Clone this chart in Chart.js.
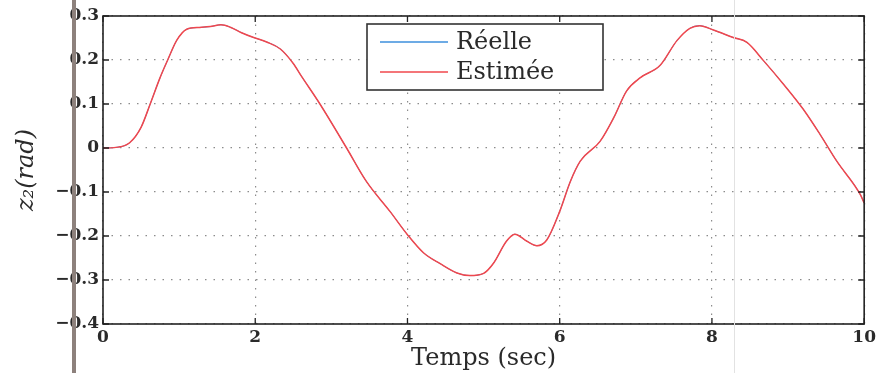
<!DOCTYPE html>
<html><head><meta charset="utf-8">
<script src="https://cdn.jsdelivr.net/npm/chart.js@4/dist/chart.umd.min.js"></script>
<style>
html,body{margin:0;padding:0;background:#fff;}
#wrap{position:relative;width:879px;height:373px;}
#c{display:block;}
.scan{position:absolute;top:0;width:4px;height:373px;left:72px;background:#8d817c;pointer-events:none;}
.scan2{position:absolute;top:0;width:1px;height:373px;left:734px;background:#e2e2e2;pointer-events:none;}
</style></head>
<body><div id="wrap"><canvas id="c" width="879" height="373"></canvas><div class="scan"></div><div class="scan2"></div></div>
<script>
const times = [0,0.2,0.35,0.5,0.62,0.75,0.85,0.97,1.1,1.27,1.41,1.55,1.68,1.82,1.98,2.15,2.33,2.5,2.6,2.85,3.2,3.46,3.77,4.0,4.21,4.43,4.65,4.82,5.0,5.13,5.3,5.41,5.57,5.7,5.83,6.0,6.14,6.27,6.53,6.71,6.88,7.06,7.32,7.54,7.71,7.84,8.02,8.28,8.46,8.68,8.94,9.2,9.42,9.64,9.95,10.0];
const reelle = [0,0.002,0.012,0.047,0.10,0.16,0.20,0.245,0.27,0.274,0.276,0.28,0.274,0.262,0.251,0.241,0.225,0.192,0.165,0.10,0.0,-0.076,-0.144,-0.197,-0.238,-0.263,-0.284,-0.290,-0.285,-0.262,-0.212,-0.196,-0.212,-0.222,-0.209,-0.144,-0.076,-0.03,0.015,0.069,0.13,0.16,0.188,0.244,0.272,0.278,0.268,0.251,0.24,0.198,0.145,0.088,0.031,-0.03,-0.106,-0.125];
const estimee = [0,0.002,0.012,0.047,0.10,0.16,0.20,0.245,0.27,0.274,0.276,0.28,0.274,0.262,0.251,0.241,0.225,0.192,0.165,0.10,0.0,-0.076,-0.144,-0.197,-0.238,-0.263,-0.284,-0.290,-0.285,-0.262,-0.212,-0.196,-0.212,-0.222,-0.209,-0.144,-0.076,-0.03,0.015,0.069,0.13,0.16,0.188,0.244,0.272,0.278,0.268,0.251,0.24,0.198,0.145,0.088,0.031,-0.03,-0.106,-0.125];
const xTicks = [0,2,4,6,8,10];
const yTicks = [-0.4,-0.3,-0.2,-0.1,0,0.1,0.2,0.3];
const yTickLabels = ['\u22120.4','\u22120.3','\u22120.2','\u22120.1','0','0.1','0.2','0.3'];
const seriesLabels = ['Réelle','Estimée'];
const xTitle = 'Temps (sec)';
const yTitle = 'z\u2082(rad)';

const toPts = vals => times.map((t,i)=>({x:t,y:vals[i]}));

const frame = {
  id:'frame',
  afterDatasetsDraw(chart){
    const {ctx, chartArea:a, scales:{x,y}} = chart;
    ctx.save();
    ctx.strokeStyle='#222'; ctx.lineWidth=1.6;
    ctx.strokeRect(a.left,a.top,a.right-a.left,a.bottom-a.top);
    ctx.lineWidth=1.3;
    const L=6;
    xTicks.forEach(v=>{const p=x.getPixelForValue(v);
      ctx.beginPath();ctx.moveTo(p,a.bottom);ctx.lineTo(p,a.bottom-L);ctx.moveTo(p,a.top);ctx.lineTo(p,a.top+L);ctx.stroke();});
    yTicks.forEach(v=>{const p=y.getPixelForValue(v);
      ctx.beginPath();ctx.moveTo(a.left,p);ctx.lineTo(a.left+L,p);ctx.moveTo(a.right,p);ctx.lineTo(a.right-L,p);ctx.stroke();});
    // legend
    const bx=367, by=24, bw=236, bh=66;
    ctx.fillStyle='#fff'; ctx.fillRect(bx,by,bw,bh);
    ctx.strokeStyle='#333'; ctx.lineWidth=1.6; ctx.strokeRect(bx,by,bw,bh);
    chart.data.datasets.forEach((ds,i)=>{
      const yy = by+18+i*30;
      ctx.strokeStyle=ds.borderColor; ctx.lineWidth=1.3;
      ctx.beginPath();ctx.moveTo(380,yy);ctx.lineTo(448,yy);ctx.stroke();
      ctx.fillStyle='#2a2a2a'; ctx.font='24px "DejaVu Serif"'; ctx.textBaseline='middle'; ctx.textAlign='left';
      ctx.fillText(ds.label,456,yy+1);
    });
    ctx.restore();
  }
};

new Chart(document.getElementById('c'),{
  type:'line',
  data:{datasets:[
    {label:seriesLabels[0],data:toPts(reelle),borderColor:'#3d8fdc',borderWidth:1,pointRadius:0,cubicInterpolationMode:'monotone',order:2},
    {label:seriesLabels[1],data:toPts(estimee),borderColor:'#f0474d',borderWidth:1.5,pointRadius:0,cubicInterpolationMode:'monotone',order:1}
  ]},
  options:{
    responsive:false,animation:false,
    layout:{padding:{top:16,right:14,left:0,bottom:0}},
    plugins:{legend:{display:false},tooltip:{enabled:false}},
    scales:{
      x:{type:'linear',min:0,max:10,
        afterBuildTicks:s=>{s.ticks=xTicks.map(v=>({value:v}));},
        afterFit:s=>{s.height=49;},
        grid:{color:'#8c8c8c',drawTicks:false,lineWidth:1.2},
        border:{display:false,dash:[1.5,7]},
        ticks:{padding:3,color:'#2a2a2a',font:{family:'DejaVu Serif',weight:'bold',size:17},callback:v=>String(v),maxRotation:0},
        title:{display:true,text:xTitle,color:'#2a2a2a',font:{family:'DejaVu Serif',size:24},padding:{top:-5,bottom:0}}
      },
      y:{type:'linear',min:-0.4,max:0.3,
        afterBuildTicks:s=>{s.ticks=yTicks.map(v=>({value:v}));},
        afterFit:s=>{s.width=103;},
        grid:{color:'#8c8c8c',drawTicks:false,lineWidth:1.2},
        border:{display:false,dash:[1.5,7]},
        ticks:{padding:4,color:'#2a2a2a',font:{family:'DejaVu Serif',weight:'bold',size:17},
          callback:(v,i)=>yTickLabels[yTicks.indexOf(Math.round(v*10)/10)]},
        title:{display:true,text:yTitle,color:'#2a2a2a',font:{family:'DejaVu Serif',style:'italic',size:24},padding:{top:12,bottom:0}}
      }
    }
  },
  plugins:[frame]
});
</script></body></html>
